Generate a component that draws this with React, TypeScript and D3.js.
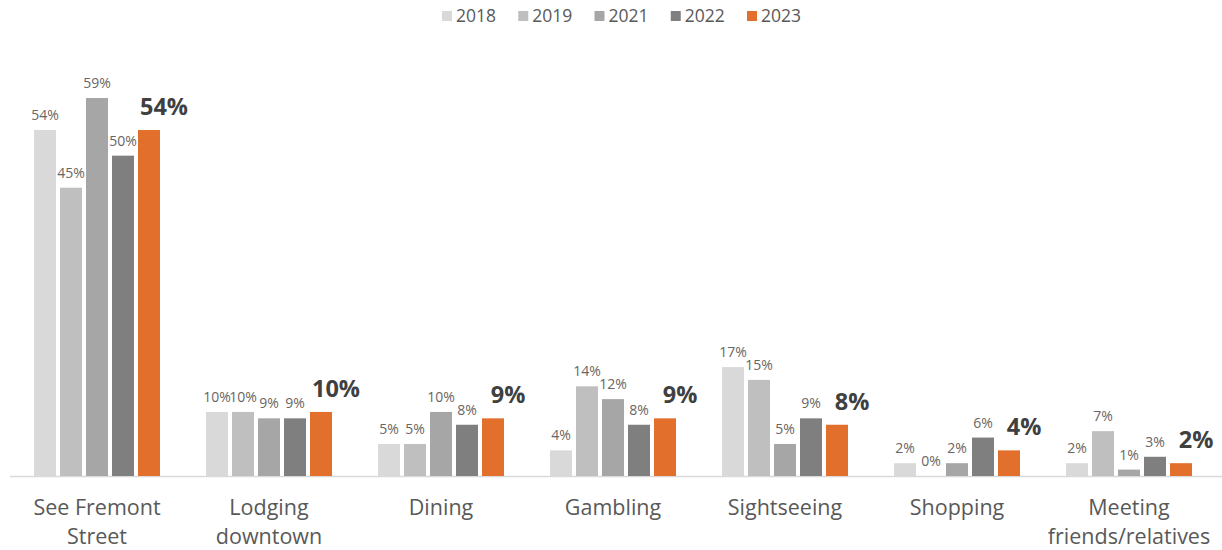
import React from "react";
import * as d3 from "d3";

const categories = [
  ["See Fremont", "Street"],
  ["Lodging", "downtown"],
  ["Dining"],
  ["Gambling"],
  ["Sightseeing"],
  ["Shopping"],
  ["Meeting", "friends/relatives"],
];
const years = ["2018", "2019", "2021", "2022", "2023"];
const values2018 = [54, 10, 5, 4, 17, 2, 2];
const values2019 = [45, 10, 5, 14, 15, 0, 7];
const values2021 = [59, 9, 10, 12, 5, 2, 1];
const values2022 = [50, 9, 8, 8, 9, 6, 3];
const values2023 = [54, 10, 9, 9, 8, 4, 2];
const series = [values2018, values2019, values2021, values2022, values2023];
const colors = ["#d9d9d9", "#bfbfbf", "#a6a6a6", "#7f7f7f", "#e2702c"];

const W = 1222;
const H = 550;
const FONT = "'Open Sans', 'Noto Sans', sans-serif";

export default function App() {
  const baseY = 476;
  const x0 = d3.scaleBand<number>().domain(d3.range(categories.length)).range([11, 1215]).paddingInner(0).paddingOuter(0);
  const x1 = d3.scaleBand<number>().domain(d3.range(years.length)).range([0, 126]).paddingInner(4 / 26).paddingOuter(0);
  const y = d3.scaleLinear().domain([0, 59]).range([baseY, 98]);
  const groupW = 126;

  const legend = d3.scaleLinear().domain([0, 4]).range([442, 747]);

  return (
    <div style={{ position: "absolute", left: 0, top: 0, margin: 0 }}>
      <svg width={W} height={H} style={{ display: "block", background: "#fff" }} fontFamily={FONT}>
        {years.map((yr, i) => (
          <g key={yr} transform={`translate(${legend(i)},16)`}>
            <rect x={0} y={-5} width={10} height={10} fill={colors[i]} />
            <text x={14} y={0} dy="0.36em" fontSize={17.5} fill="#595959">{yr}</text>
          </g>
        ))}
        <line x1={10} x2={1222} y1={baseY + 0.5} y2={baseY + 0.5} stroke="#d9d9d9" strokeWidth={1.5} />
        {categories.map((cat, ci) => {
          const gx = x0(ci)! + (x0.bandwidth() - groupW) / 2;
          const cx = x0(ci)! + x0.bandwidth() / 2;
          return (
            <g key={ci}>
              {series.map((s, si) => {
                const v = s[ci];
                const bx = gx + x1(si)!;
                const bw = x1.bandwidth();
                const top = y(v);
                const is23 = si === years.length - 1;
                return (
                  <g key={si}>
                    {v > 0 && (
                      <rect x={bx} y={top} width={bw} height={baseY - top} fill={colors[si]} />
                    )}
                    {is23 ? (
                      <text x={bx + bw / 2 + 15} y={top - 15} textAnchor="middle" fontSize={23.5} fontWeight={700} fill="#404040">
                        {v}%
                      </text>
                    ) : (
                      <text x={bx + bw / 2} y={top - 10} textAnchor="middle" fontSize={14} fill="#666">
                        {v}%
                      </text>
                    )}
                  </g>
                );
              })}
              {cat.map((line, li) => (
                <text key={li} x={cx} y={515 + li * 29} textAnchor="middle" fontSize={21.5} fill="#595959">
                  {line}
                </text>
              ))}
            </g>
          );
        })}
      </svg>
    </div>
  );
}
